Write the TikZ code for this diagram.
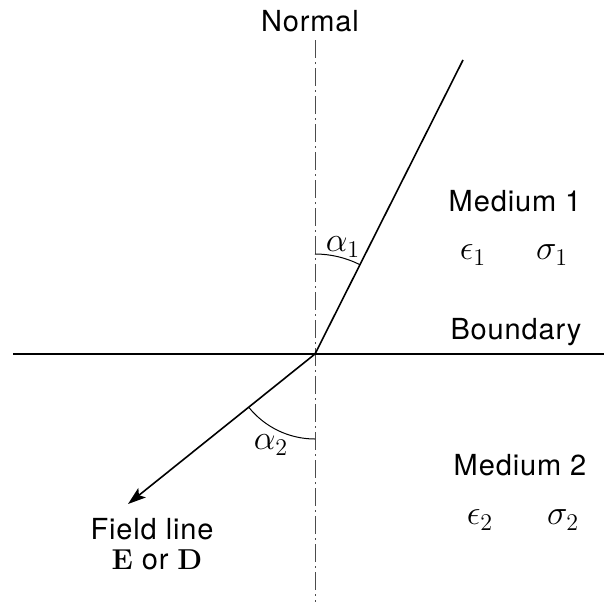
\documentclass[tikz,border=0pt]{standalone}
\usepackage[no-math]{fontspec}
\setmainfont{TeX Gyre Heros}[LetterSpace=3]
\usetikzlibrary{arrows.meta}
\begin{document}
\begin{tikzpicture}[x=0.5pt,y=0.5pt,every node/.style={font=\fontsize{14.5}{17}\selectfont,inner sep=1pt},
  sym/.style={font=\fontsize{17}{19}\selectfont},
  axis/.style={draw=black!70,line width=0.5pt,dash pattern=on 9pt off 2pt on 1pt off 2pt},
  fline/.style={line width=0.8pt}]
\useasboundingbox (0,0) rectangle (604,602);
\coordinate (o) at (315,248);
\coordinate (top) at (463,542);
\coordinate (tip) at (128,98);
\coordinate (bl) at (13,248);
\coordinate (br) at (604,248);
\coordinate (nb) at (315,0);
\node (normal) at (310,581) {Normal};
\draw[axis] ([yshift=-3pt]normal.south -| o) -- (nb);
\draw[line width=0.6pt] (bl) -- (br);
\draw[fline] (top) -- (o);
\draw[fline,-{Stealth[length=9pt,width=6pt,inset=2pt]}] (o) -- (tip);
\draw[line width=0.5pt] ([shift={(90:100)}]o) arc[start angle=90,end angle=63.3,radius=100];
\draw[line width=0.5pt] ([shift={(218.7:85)}]o) arc[start angle=218.7,end angle=270,radius=85];
\node[sym] (a1) at (343,355) {$\alpha_1$};
\node[sym] (a2) at (271,157) {$\alpha_2$};
\node (bnd) at (516,270) {Boundary};
\node (m1) at (515,401) {Medium 1};
\node[sym] (e1) at (473,347) {$\epsilon_1$};
\node[sym] (s1) at (552,347) {$\sigma_1$};
\node (m2) at (520,137) {Medium 2};
\node[sym] (e2) at (480,82) {$\epsilon_2$};
\node[sym] (s2) at (563,82) {$\sigma_2$};
\node (fl) at (152,73) {Field line};
\node (ed) at (157,42) {$\mathbf{E}$ or $\mathbf{D}$};
\end{tikzpicture}
\end{document}
